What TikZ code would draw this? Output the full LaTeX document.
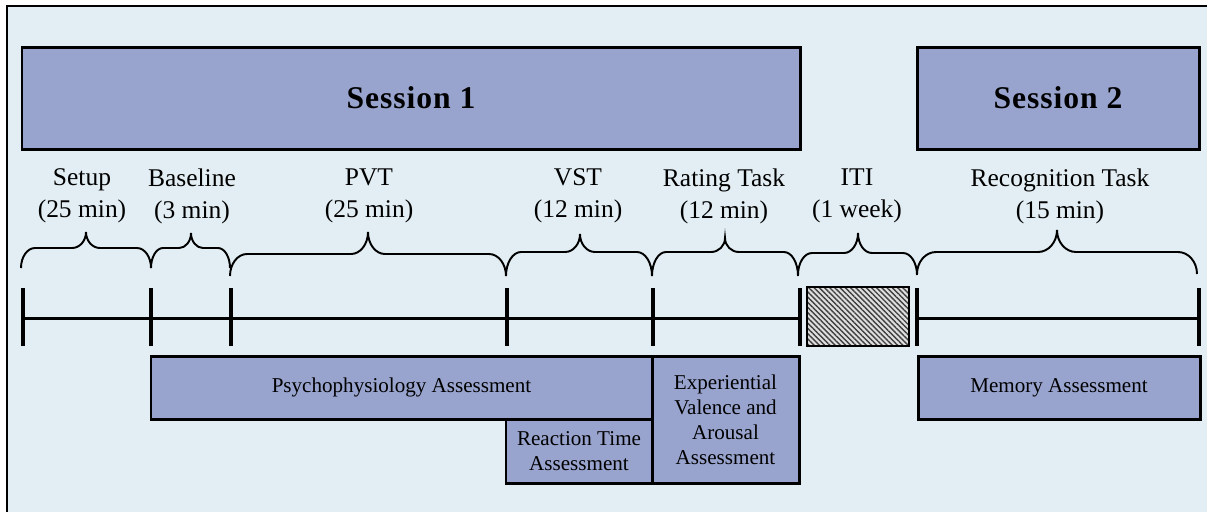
\documentclass[tikz,border=0pt]{standalone}
\usepackage{fontspec}
\setmainfont{Liberation Serif}
\usetikzlibrary{fit,patterns.meta}
\definecolor{panel}{RGB}{226,238,243}
\definecolor{boxfill}{RGB}{152,164,206}
% curly brace over a phase: left x, right x, end y, shoulder y, tip y, tip x, curl radius
\newcommand{\phasebrace}[7]{%
  \draw[line width=1.1pt]
    (#1,#3) .. controls (#1,#3-0.552*#3+0.552*#4) and (#1+0.448*#7,#4) .. (#1+#7,#4)
    -- (#6-#7,#4)
    .. controls (#6-0.448*#7,#4) and (#6,#5+0.552*#4-0.552*#5) .. (#6,#5)
    .. controls (#6,#5+0.552*#4-0.552*#5) and (#6+0.448*#7,#4) .. (#6+#7,#4)
    -- (#2-#7,#4)
    .. controls (#2-0.448*#7,#4) and (#2,#3-0.552*#3+0.552*#4) .. (#2,#3);}
\begin{document}
\begin{tikzpicture}[x=0.02cm,y=-0.02cm,
  box/.style={draw=black, line width=1.7pt, fill=boxfill, inner sep=0pt},
  sesstext/.style={font=\fontsize{18}{22}\selectfont\bfseries\addfontfeature{LetterSpace=3}, inner sep=0pt},
  asmttext/.style={align=center, font=\fontsize{12}{14.2}\selectfont, inner sep=0pt},
  phase/.style={align=center, font=\fontsize{14.5}{18.2}\selectfont, inner sep=0pt},
  tickmark/.style={line width=2pt},
  axis/.style={line width=1.7pt}]

% page and panel
\useasboundingbox (0,0) rectangle (1207,512);
\fill[white] (0,0) rectangle (1207,512);
\fill[panel] (7,6) rectangle (1207,512);
\draw[line width=1.4pt] (7,512) -- (7,6) -- (1207,6);

% sessions
\node[box, fit={(22,47) (800,149)}] (s1) {};
\node[sesstext] (s1t) at (s1.center) {Session 1};
\node[box, fit={(917,47) (1199,149)}] (s2) {};
\node[sesstext] (s2t) at (s2.center) {Session 2};

% phase labels
\node[phase] (setup) at (82,196) {Setup\\(25 min)};
\node[phase] (base)  at (192,196) {Baseline\\(3 min)};
\node[phase] (pvt)   at (369,196) {PVT\\(25 min)};
\node[phase] (vst)   at (578,196) {VST\\(12 min)};
\node[phase] (rate)  at (724,196) {Rating Task\\(12 min)};
\node[phase] (iti)   at (857,196) {ITI\\(1 week)};
\node[phase] (recog) at (1060,196) {Recognition Task\\(15 min)};

% braces under the labels
\phasebrace{21}{151}{268}{248}{232}{86}{14}
\phasebrace{151}{230}{268}{248}{233}{191}{12}
\phasebrace{230}{506}{276}{254}{232}{368}{17}
\phasebrace{506}{652}{276}{252}{234}{580}{15}
\phasebrace{652}{798}{276}{252}{238}{725}{14}
\phasebrace{798}{917}{275}{253}{233}{858}{14}
\phasebrace{917}{1197}{274}{252}{230}{1057}{19}

% timeline
\foreach \n/\x in {0/23,1/151,2/231,3/507,4/653,5/800,6/917,7/1199}
  \coordinate (t\n) at (\x,318);
\draw[axis] (t0) -- (t5);
\draw[axis] (t6) -- (t7);
\foreach \n in {0,...,7}
  \draw[tickmark] ([yshift=-0.56cm]t\n) -- ([yshift=0.6cm]t\n);

% one-week gap
\fill[gray!25] (807,287) rectangle (909,346);
\fill[pattern={Lines[angle=-45, distance=2.1pt, line width=0.8pt]}, pattern color=black!75]
  (807,287) rectangle (909,346);
\draw[line width=1pt] (807,287) rectangle (909,346);

% assessments
\node[box, fit={(151,356) (652,419)}] (psy) {};
\node[box, fit={(506,419) (652,483)}] (rt) {};
\node[box, fit={(652,356) (799,483)}] (exp) {};
\node[box, fit={(918,356) (1200,419)}] (mem) {};
\node[asmttext] (psyt) at (psy.center) {Psychophysiology Assessment};
\node[asmttext] (rtt)  at (rt.center)  {Reaction Time\\Assessment};
\node[asmttext] (expt) at (exp.center) {Experiential\\Valence and\\Arousal\\Assessment};
\node[asmttext] (memt) at (mem.center) {Memory Assessment};
\end{tikzpicture}
\end{document}
